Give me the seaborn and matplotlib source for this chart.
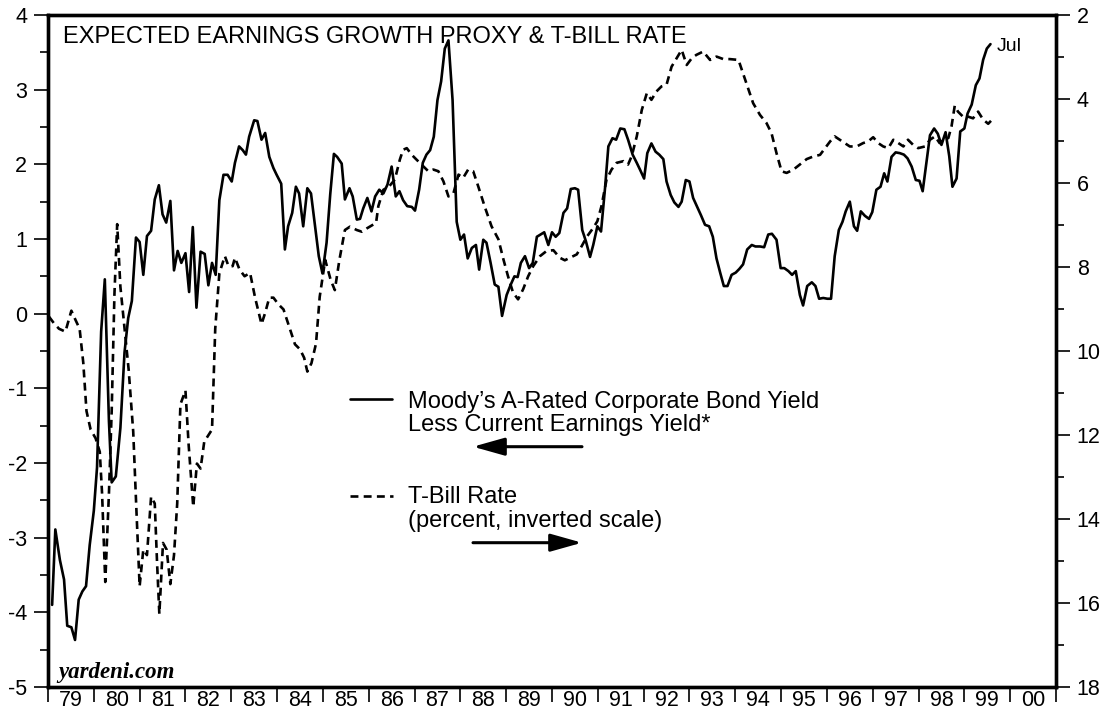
import numpy as np
import pandas as pd
import matplotlib
matplotlib.use("Agg")
import matplotlib.pyplot as plt
from matplotlib.lines import Line2D
from matplotlib.ticker import MultipleLocator, FixedLocator
import seaborn as sns

# ---- values: decimal year, value ----
# Moody's A-rated bond yield less current earnings yield (left axis)
spread_dates = [
    1979.09, 1979.16, 1979.26, 1979.35, 1979.42, 1979.51, 1979.59, 1979.67, 1979.75, 1979.83,
    1979.91, 1980.00, 1980.07, 1980.16, 1980.24, 1980.33, 1980.39, 1980.48, 1980.58, 1980.67,
    1980.75, 1980.83, 1980.92, 1981.00, 1981.08, 1981.16, 1981.25, 1981.33, 1981.42, 1981.50,
    1981.58, 1981.67, 1981.75, 1981.83, 1981.91, 1982.00, 1982.08, 1982.16, 1982.24, 1982.33,
    1982.42, 1982.50, 1982.58, 1982.66, 1982.74, 1982.83, 1982.92, 1983.01, 1983.08, 1983.17,
    1983.25, 1983.32, 1983.39, 1983.50, 1983.57, 1983.66, 1983.74, 1983.83, 1983.92, 1983.99,
    1984.09, 1984.17, 1984.24, 1984.33, 1984.41, 1984.48, 1984.57, 1984.66, 1984.74, 1984.83,
    1984.91, 1984.99, 1985.08, 1985.16, 1985.24, 1985.31, 1985.41, 1985.48, 1985.58, 1985.65,
    1985.74, 1985.81, 1985.88, 1985.97, 1986.06, 1986.14, 1986.23, 1986.32, 1986.41, 1986.50,
    1986.59, 1986.67, 1986.75, 1986.84, 1986.94, 1987.01, 1987.10, 1987.18, 1987.26, 1987.34,
    1987.42, 1987.50, 1987.58, 1987.66, 1987.74, 1987.83, 1987.92, 1988.00, 1988.08, 1988.16,
    1988.25, 1988.34, 1988.41, 1988.50, 1988.57, 1988.66, 1988.75, 1988.83, 1988.91, 1989.01,
    1989.10, 1989.18, 1989.25, 1989.32, 1989.41, 1989.50, 1989.58, 1989.67, 1989.75, 1989.83,
    1989.92, 1990.00, 1990.08, 1990.16, 1990.25, 1990.33, 1990.41, 1990.50, 1990.57, 1990.66,
    1990.74, 1990.83, 1990.90, 1990.99, 1991.07, 1991.16, 1991.23, 1991.32, 1991.40, 1991.49,
    1991.58, 1991.66, 1991.76, 1991.85, 1991.92, 1992.01, 1992.08, 1992.17, 1992.26, 1992.34,
    1992.43, 1992.50, 1992.59, 1992.67, 1992.76, 1992.83, 1992.92, 1993.00, 1993.08, 1993.17,
    1993.25, 1993.34, 1993.43, 1993.51, 1993.59, 1993.67, 1993.75, 1993.83, 1993.92, 1994.01,
    1994.09, 1994.17, 1994.26, 1994.36, 1994.44, 1994.54, 1994.63, 1994.72, 1994.80, 1994.90,
    1994.99, 1995.07, 1995.16, 1995.24, 1995.32, 1995.41, 1995.48, 1995.57, 1995.67, 1995.75,
    1995.83, 1995.92, 1996.01, 1996.09, 1996.17, 1996.26, 1996.34, 1996.41, 1996.50, 1996.59,
    1996.66, 1996.74, 1996.83, 1996.92, 1996.99, 1997.08, 1997.17, 1997.25, 1997.32, 1997.41,
    1997.50, 1997.59, 1997.68, 1997.76, 1997.85, 1997.94, 1998.02, 1998.09, 1998.18, 1998.25,
    1998.34, 1998.42, 1998.50, 1998.59, 1998.67, 1998.74, 1998.83, 1998.91, 1999.00, 1999.07,
    1999.16, 1999.25, 1999.33, 1999.41, 1999.49, 1999.57,
]
spread_vals = [
    -3.90, -2.89, -3.30, -3.56, -4.18, -4.20, -4.37, -3.83, -3.72, -3.65,
    -3.10, -2.64, -2.06, -0.24, 0.46, -1.44, -2.26, -2.18, -1.53, -0.52,
    -0.06, 0.17, 1.02, 0.96, 0.52, 1.04, 1.11, 1.53, 1.72, 1.33,
    1.22, 1.51, 0.58, 0.84, 0.68, 0.81, 0.29, 1.16, 0.08, 0.83,
    0.80, 0.38, 0.68, 0.52, 1.52, 1.86, 1.86, 1.77, 2.02, 2.24,
    2.19, 2.13, 2.37, 2.59, 2.58, 2.33, 2.42, 2.10, 1.95, 1.86,
    1.74, 0.86, 1.17, 1.35, 1.70, 1.61, 1.17, 1.68, 1.61, 1.17,
    0.77, 0.54, 0.95, 1.60, 2.14, 2.10, 2.01, 1.53, 1.68, 1.57,
    1.26, 1.27, 1.41, 1.55, 1.37, 1.57, 1.66, 1.61, 1.73, 1.97,
    1.57, 1.64, 1.52, 1.44, 1.43, 1.38, 1.66, 2.02, 2.13, 2.19,
    2.37, 2.86, 3.11, 3.55, 3.66, 2.86, 1.23, 0.99, 1.06, 0.74,
    0.88, 0.92, 0.59, 0.99, 0.95, 0.68, 0.39, 0.36, -0.03, 0.25,
    0.39, 0.50, 0.49, 0.68, 0.77, 0.61, 0.68, 1.03, 1.06, 1.09,
    0.92, 1.09, 1.03, 1.08, 1.35, 1.41, 1.67, 1.68, 1.66, 1.12,
    0.97, 0.76, 0.92, 1.17, 1.10, 1.70, 2.24, 2.35, 2.33, 2.48,
    2.47, 2.33, 2.13, 2.02, 1.93, 1.81, 2.15, 2.28, 2.17, 2.13,
    2.07, 1.77, 1.59, 1.49, 1.43, 1.50, 1.79, 1.77, 1.55, 1.43,
    1.32, 1.19, 1.17, 1.03, 0.74, 0.55, 0.37, 0.37, 0.52, 0.55,
    0.60, 0.66, 0.86, 0.92, 0.90, 0.90, 0.89, 1.06, 1.07, 0.99,
    0.61, 0.61, 0.57, 0.52, 0.57, 0.25, 0.11, 0.37, 0.42, 0.37,
    0.20, 0.21, 0.20, 0.20, 0.77, 1.12, 1.23, 1.37, 1.50, 1.17,
    1.11, 1.37, 1.31, 1.27, 1.36, 1.66, 1.70, 1.88, 1.77, 2.10,
    2.16, 2.15, 2.13, 2.08, 1.97, 1.79, 1.78, 1.64, 2.06, 2.39,
    2.48, 2.41, 2.26, 2.43, 2.11, 1.70, 1.81, 2.44, 2.48, 2.68,
    2.80, 3.06, 3.15, 3.40, 3.55, 3.61,
]

# T-bill rate, percent (right axis, inverted)
tbill_dates = [
    1979.02, 1979.13, 1979.24, 1979.38, 1979.51, 1979.60, 1979.69, 1979.77, 1979.84, 1979.93,
    1980.04, 1980.13, 1980.18, 1980.25, 1980.33, 1980.39, 1980.45, 1980.51, 1980.58, 1980.69,
    1980.76, 1980.86, 1980.93, 1981.00, 1981.08, 1981.16, 1981.25, 1981.33, 1981.38, 1981.43,
    1981.51, 1981.59, 1981.67, 1981.75, 1981.82, 1981.89, 1982.00, 1982.07, 1982.17, 1982.25,
    1982.33, 1982.41, 1982.51, 1982.58, 1982.65, 1982.74, 1982.86, 1982.94, 1983.03, 1983.08,
    1983.18, 1983.29, 1983.41, 1983.52, 1983.66, 1983.74, 1983.83, 1983.92, 1984.03, 1984.14,
    1984.27, 1984.39, 1984.50, 1984.59, 1984.66, 1984.75, 1984.85, 1984.93, 1985.05, 1985.17,
    1985.26, 1985.36, 1985.48, 1985.59, 1985.74, 1985.85, 1985.96, 1986.16, 1986.21, 1986.32,
    1986.43, 1986.57, 1986.68, 1986.75, 1986.83, 1986.94, 1987.04, 1987.19, 1987.30, 1987.41,
    1987.52, 1987.63, 1987.74, 1987.85, 1987.96, 1988.06, 1988.17, 1988.28, 1988.39, 1988.54,
    1988.68, 1988.83, 1988.94, 1989.04, 1989.15, 1989.26, 1989.37, 1989.48, 1989.59, 1989.74,
    1989.88, 1990.03, 1990.17, 1990.28, 1990.39, 1990.54, 1990.65, 1990.76, 1990.90, 1990.99,
    1991.08, 1991.19, 1991.30, 1991.41, 1991.56, 1991.66, 1991.74, 1991.85, 1991.96, 1992.07,
    1992.17, 1992.28, 1992.39, 1992.50, 1992.61, 1992.72, 1992.83, 1992.94, 1993.05, 1993.15,
    1993.30, 1993.45, 1993.59, 1993.74, 1993.88, 1994.07, 1994.17, 1994.28, 1994.39, 1994.54,
    1994.68, 1994.79, 1994.90, 1995.01, 1995.12, 1995.27, 1995.41, 1995.56, 1995.70, 1995.85,
    1995.96, 1996.07, 1996.17, 1996.28, 1996.39, 1996.50, 1996.65, 1996.79, 1996.90, 1997.01,
    1997.12, 1997.23, 1997.34, 1997.45, 1997.56, 1997.67, 1997.77, 1997.88, 1997.99, 1998.14,
    1998.25, 1998.36, 1998.46, 1998.54, 1998.65, 1998.72, 1998.79, 1998.86, 1998.97, 1999.08,
    1999.19, 1999.30, 1999.41, 1999.52, 1999.59,
]
tbill_vals = [
    9.18, 9.34, 9.47, 9.54, 9.04, 9.26, 9.47, 10.28, 11.43, 11.87,
    12.08, 12.40, 13.39, 15.50, 13.39, 11.43, 8.65, 6.98, 8.47, 9.66,
    10.44, 11.92, 13.80, 15.60, 14.73, 14.86, 13.47, 13.63, 15.03, 16.26,
    14.57, 14.73, 15.55, 14.86, 13.63, 11.27, 10.94, 12.24, 13.71, 12.68,
    12.80, 12.16, 11.99, 11.87, 9.47, 8.15, 7.74, 7.98, 7.98, 7.78,
    8.06, 8.22, 8.14, 8.73, 9.36, 9.09, 8.73, 8.73, 8.89, 9.01,
    9.44, 9.84, 9.96, 10.16, 10.49, 10.29, 9.82, 8.71, 7.83, 8.31,
    8.55, 7.83, 7.12, 7.04, 7.12, 7.16, 7.08, 6.95, 6.55, 6.16,
    6.10, 5.92, 5.44, 5.21, 5.17, 5.33, 5.44, 5.60, 5.72, 5.68,
    5.72, 5.96, 6.32, 6.24, 5.80, 5.88, 5.68, 5.72, 6.08, 6.59,
    7.03, 7.34, 7.82, 8.22, 8.61, 8.77, 8.53, 8.22, 7.98, 7.74,
    7.62, 7.60, 7.78, 7.84, 7.78, 7.70, 7.50, 7.28, 7.07, 6.91,
    6.55, 5.92, 5.68, 5.52, 5.48, 5.56, 5.36, 4.89, 4.26, 3.86,
    4.02, 3.82, 3.70, 3.66, 3.23, 3.03, 2.83, 3.19, 3.03, 2.95,
    2.87, 3.07, 2.99, 3.05, 3.05, 3.07, 3.39, 3.74, 4.10, 4.38,
    4.57, 4.81, 5.29, 5.72, 5.76, 5.68, 5.56, 5.43, 5.37, 5.33,
    5.17, 5.01, 4.89, 4.97, 5.05, 5.13, 5.13, 5.05, 5.01, 4.91,
    5.05, 5.13, 5.17, 4.97, 5.05, 5.13, 4.97, 5.09, 5.17, 5.13,
    4.97, 4.89, 5.05, 4.97, 4.93, 4.65, 4.16, 4.30, 4.42, 4.42,
    4.46, 4.30, 4.49, 4.59, 4.51,
]

years = list(range(1979, 2002))
year_labels = ["79", "80", "81", "82", "83", "84", "85", "86", "87", "88", "89",
               "90", "91", "92", "93", "94", "95", "96", "97", "98", "99", "00"]
left_ticks = list(range(-5, 5))
right_ticks = list(range(2, 19, 2))

title = "EXPECTED EARNINGS GROWTH PROXY & T-BILL RATE"
spread_label = ["Moody\u2019s A-Rated Corporate Bond Yield", "Less Current Earnings Yield*"]
tbill_label = ["T-Bill Rate", "(percent, inverted scale)"]

# ---- styling ----
sns.set_theme(style="ticks")
plt.rcParams['font.family'] = ['Liberation Sans', 'DejaVu Sans']
plt.rcParams['axes.unicode_minus'] = False
plt.rcParams['text.color'] = 'black'
plt.rcParams['axes.labelcolor'] = 'black'
plt.rcParams['xtick.color'] = 'black'
plt.rcParams['ytick.color'] = 'black'

LW = 1.9
DASH = (0, (3, 2))
TICK_FS = 15.5
TEXT_FS = 17

fig = plt.figure(figsize=(11.03, 7.19), dpi=100)
ax = fig.add_axes([48 / 1103, 1 - 687 / 719, 1008 / 1103, 672 / 719])
ax2 = ax.twinx()

df_spread = pd.DataFrame({"date": spread_dates, "value": spread_vals})
df_tbill = pd.DataFrame({"date": tbill_dates, "rate": tbill_vals})

sns.lineplot(data=df_spread, x="date", y="value", ax=ax, color="black",
             linewidth=LW, errorbar=None)
sns.lineplot(data=df_tbill, x="date", y="rate", ax=ax2, color="black",
             linewidth=LW, linestyle=DASH, errorbar=None)

# axes limits / ticks
ax.set_xlim(1979, 2001)
ax.set_ylim(-5, 4)
ax2.set_ylim(18, 2)
ax.set_xlabel("")
ax.set_ylabel("")
ax2.set_ylabel("")

ax.xaxis.set_major_locator(FixedLocator(years))
ax.set_xticklabels([])
ax.set_xticks([y + 0.5 for y in years[:-1]], labels=year_labels, minor=True)
ax.tick_params(axis="x", which="major", direction="out", length=11, width=1.2,
               bottom=True, top=False, color="black")
ax.tick_params(axis="x", which="minor", length=0, pad=2, labelsize=TICK_FS,
               labelcolor="black")

ax.set_yticks(left_ticks)
ax.yaxis.set_minor_locator(MultipleLocator(0.5))
ax.tick_params(axis="y", which="major", direction="out", length=10, width=1.2,
               pad=5, labelsize=TICK_FS, left=True, right=False, color="black",
               labelcolor="black")
ax.tick_params(axis="y", which="minor", direction="out", length=6, width=1.2,
               left=True, right=False, color="black")

ax2.set_yticks(right_ticks)
ax2.yaxis.set_minor_locator(MultipleLocator(1))
ax2.tick_params(axis="y", which="major", direction="out", length=10, width=1.2,
                pad=5, labelsize=TICK_FS, right=True, left=False, color="black",
                labelcolor="black")
ax2.tick_params(axis="y", which="minor", direction="out", length=6, width=1.2,
                right=True, left=False, color="black")

for a in (ax, ax2):
    for s in a.spines.values():
        s.set_visible(True)
        s.set_linewidth(2.4)
        s.set_color("black")


def fy(py):
    # pixel row -> axes fraction
    return (687 - py) / 672


def fx(px):
    return (px - 48) / 1008


# title and source
ax.text(fx(63), fy(42.7), title, fontsize=TEXT_FS, va="baseline", ha="left",
        color="black", transform=ax.transAxes)
ax.text(fx(58), fy(678), "yardeni.com", family=["Liberation Serif", "DejaVu Serif"],
        style="italic", weight="bold", fontsize=16.5, va="baseline", ha="left",
        color="black", transform=ax.transAxes)

# "Jul" tag on last point
ax.annotate("Jul", xy=(spread_dates[-1], spread_vals[-1]), xytext=(4.5, -1.5),
            textcoords="offset points", va="center", ha="left", fontsize=14,
            color="black")

# legend block, drawn by hand
ax.add_line(Line2D([fx(350), fx(392)], [fy(399), fy(399)], transform=ax.transAxes,
                   color="black", lw=LW))
ax.add_line(Line2D([fx(350), fx(393)], [fy(496), fy(496)], transform=ax.transAxes,
                   color="black", lw=LW, linestyle=DASH))
for txt, py in zip(spread_label, [408.3, 431]):
    ax.text(fx(408), fy(py), txt, fontsize=TEXT_FS, va="baseline", ha="left",
            color="black", transform=ax.transAxes)
for txt, py in zip(tbill_label, [503.3, 526.7]):
    ax.text(fx(408), fy(py), txt, fontsize=TEXT_FS, va="baseline", ha="left",
            color="black", transform=ax.transAxes)

arrow_style = dict(arrowstyle="-|>,head_length=1.6,head_width=0.45", color="black",
                   lw=2.2, mutation_scale=12, shrinkA=0, shrinkB=0)
ax.annotate("", xy=(fx(473), fy(446.7)), xytext=(fx(582), fy(446.7)),
            xycoords="axes fraction", textcoords="axes fraction", arrowprops=arrow_style)
ax.annotate("", xy=(fx(582), fy(542.7)), xytext=(fx(473), fy(542.7)),
            xycoords="axes fraction", textcoords="axes fraction", arrowprops=arrow_style)

fig.savefig("out.png", dpi=100)
